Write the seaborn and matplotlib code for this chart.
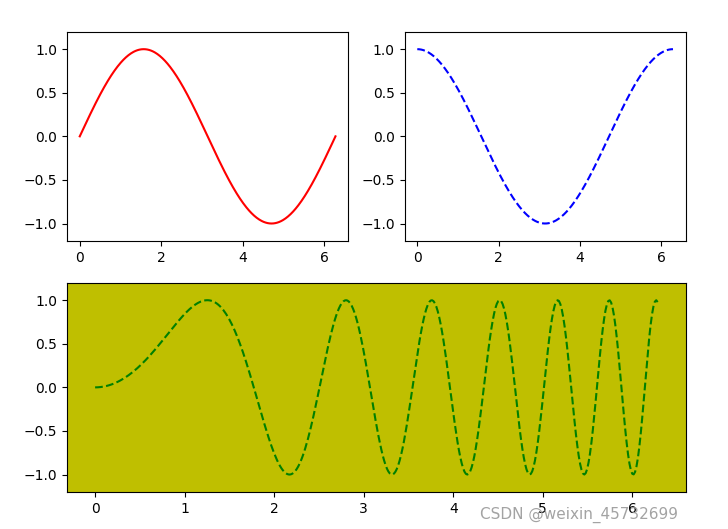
import numpy as np
import matplotlib
matplotlib.use("Agg")
import matplotlib.pyplot as plt
import seaborn as sns

# sampled curves: sin(x), cos(x), sin(x^2) on [0, 2*pi]
x = np.linspace(0, 2 * np.pi, 400)
y_sin = np.sin(x)
y_cos = np.cos(x)
y_sin_sq = np.sin(x ** 2)

fig = plt.figure(figsize=(7.28, 5.29), dpi=100)
fig.subplots_adjust(left=0.092, right=0.942, top=0.94, bottom=0.07, wspace=0.2, hspace=0.2)

ax1 = fig.add_subplot(221)
sns.lineplot(x=x, y=y_sin, color='r', ax=ax1)

ax2 = fig.add_subplot(222)
sns.lineplot(x=x, y=y_cos, color='b', linestyle='--', ax=ax2)

ax3 = fig.add_subplot(212)
ax3.set_facecolor((0.75, 0.75, 0))
sns.lineplot(x=x, y=y_sin_sq, color='g', linestyle='--', ax=ax3)

for ax in (ax1, ax2, ax3):
    ax.set_ylim(-1.2, 1.2)
    ax.set_yticks([-1.0, -0.5, 0.0, 0.5, 1.0])

fig.text(0.66, 0.02, 'CSDN @weixin_45732699', color='#999999', fontsize=11, alpha=0.9)

plt.savefig('out.png', dpi=100)
plt.close('all')
